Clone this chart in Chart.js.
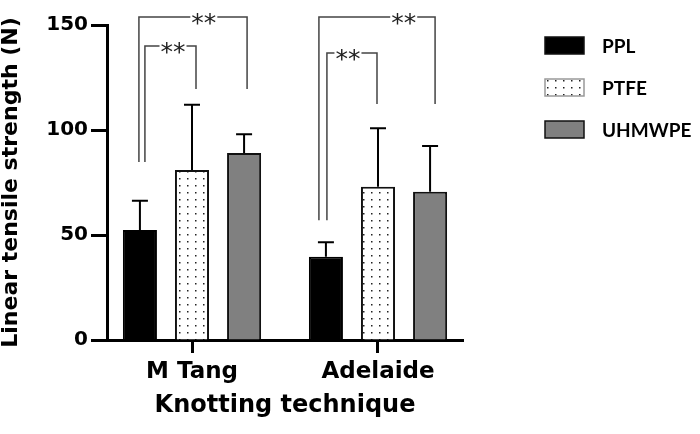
<!DOCTYPE html>
<html>
<head>
<meta charset="utf-8">
<script src="https://cdn.jsdelivr.net/npm/chart.js@4.4.1/dist/chart.umd.min.js"></script>
<style>
  html, body { margin: 0; padding: 0; background: #fff; }
</style>
</head>
<body>
<canvas id="myChart" width="700" height="434"></canvas>
<script>
const categories = ['M Tang', 'Adelaide'];
const seriesNames = ['PPL', 'PTFE', 'UHMWPE'];
const pplMean = [52.4, 39.7];
const pplSd = [13.9, 6.8];
const ptfeMean = [81.0, 73.0];
const ptfeSd = [31.0, 27.8];
const uhmwpeMean = [89.0, 70.6];
const uhmwpeSd = [9.0, 21.8];
const yTicks = [0, 50, 100, 150];

// significance brackets (values in N): category, bars joined, foot / top heights
const brackets = [
    { cat: 0, from: 0, to: 1, left: 84.8, top: 140.0, right: 119.5, label: '**' },
    { cat: 0, from: 0, to: 2, left: 84.8, top: 153.8, right: 119.5, label: '**' },
    { cat: 1, from: 0, to: 1, left: 57.0, top: 136.7, right: 112.4, label: '**' },
    { cat: 1, from: 0, to: 2, left: 57.0, top: 153.8, right: 112.4, label: '**' }
];
// small pixel nudges of the bracket legs and where the stars sit along the top
const bracketNudge = [[5, 4, 0.55], [-1, 3, 0.60], [1, -1, 0.42], [-7, 5, 0.73]];

function dotPattern() {
    const c = document.createElement('canvas');
    c.width = 8; c.height = 7;
    const g = c.getContext('2d');
    g.fillStyle = '#fff';
    g.fillRect(0, 0, 8, 7);
    g.fillStyle = '#222';
    g.fillRect(3, 3, 1.5, 1.5);
    return document.getElementById('myChart').getContext('2d').createPattern(c, 'repeat');
}
const dots = dotPattern();
const fills = ['#000000', dots, '#808080'];
const borders = ['#000000', '#111111', '#111111'];

const errorBars = {
    id: 'errorBars',
    afterDatasetsDraw(chart) {
        const ctx = chart.ctx;
        const y = chart.scales.y;
        ctx.save();
        ctx.strokeStyle = '#000';
        ctx.lineWidth = 2;
        chart.data.datasets.forEach((ds, i) => {
            chart.getDatasetMeta(i).data.forEach((bar, j) => {
                const top = y.getPixelForValue(ds.data[j].y + ds.sd[j]);
                ctx.beginPath();
                ctx.moveTo(bar.x, bar.y);
                ctx.lineTo(bar.x, top);
                ctx.moveTo(bar.x - 8, top);
                ctx.lineTo(bar.x + 8, top);
                ctx.stroke();
            });
        });

        // brackets
        ctx.strokeStyle = '#444';
        ctx.lineWidth = 1.5;
        ctx.font = '25px "DejaVu Sans", sans-serif';
        ctx.textAlign = 'center';
        ctx.textBaseline = 'alphabetic';
        ctx.fillStyle = '#222';
        brackets.forEach((b, k) => {
            const n = bracketNudge[k];
            const x1 = chart.getDatasetMeta(b.from).data[b.cat].x + n[0];
            const x2 = chart.getDatasetMeta(b.to).data[b.cat].x + n[1];
            const yl = y.getPixelForValue(b.left);
            const yt = y.getPixelForValue(b.top);
            const yr = y.getPixelForValue(b.right);
            const tx = x1 + (x2 - x1) * n[2];
            const half = ctx.measureText(b.label).width / 2 + 1;
            ctx.beginPath();
            ctx.moveTo(x1, yl);
            ctx.lineTo(x1, yt);
            ctx.lineTo(tx - half, yt);
            ctx.moveTo(tx + half, yt);
            ctx.lineTo(x2, yt);
            ctx.lineTo(x2, yr);
            ctx.stroke();
            ctx.fillText(b.label, tx, yt + 14);
        });
        ctx.restore();
    }
};

const sideLegend = {
    id: 'sideLegend',
    afterDraw(chart) {
        const ctx = chart.ctx;
        ctx.save();
        ctx.font = 'bold 19px Lato, "Open Sans", sans-serif';
        ctx.textBaseline = 'middle';
        ctx.textAlign = 'left';
        seriesNames.forEach((name, i) => {
            const cy = 45.5 + i * 42;
            ctx.fillStyle = fills[i];
            ctx.fillRect(545, cy - 8.5, 39, 17);
            ctx.strokeStyle = i === 1 ? '#999' : '#111';
            ctx.lineWidth = 1.5;
            ctx.strokeRect(545, cy - 8.5, 39, 17);
            ctx.fillStyle = '#000';
            ctx.fillText(name, 602, cy + 1);
        });
        ctx.restore();
    }
};

Chart.defaults.font.family = '"DejaVu Sans", Verdana, sans-serif';
Chart.defaults.color = '#000';

const means = [pplMean, ptfeMean, uhmwpeMean];
const sds = [pplSd, ptfeSd, uhmwpeSd];

const ctx = document.getElementById('myChart');
const myChart = new Chart(ctx, {
    type: 'bar',
    data: {
        datasets: seriesNames.map((name, i) => ({
            label: name,
            data: means[i].map((v, j) => ({ x: j, y: v })),
            sd: sds[i],
            backgroundColor: fills[i],
            borderColor: borders[i],
            borderWidth: 2,
            categoryPercentage: 0.84,
            barPercentage: 0.654
        }))
    },
    options: {
        responsive: false,
        animation: false,
        devicePixelRatio: 1,
        layout: { padding: { top: 25, right: 237, left: 0, bottom: 0 } },
        scales: {
            x: {
                type: 'linear',
                offset: false,
                min: -0.457,
                max: 1.457,
                afterBuildTicks: s => { s.ticks = categories.map((c, i) => ({ value: i })); },
                afterFit: s => { s.height = 94; },
                ticks: {
                    callback: v => categories[v],
                    font: { size: 23, weight: 'bold' },
                    padding: 5,
                    maxRotation: 0,
                    autoSkip: false
                },
                grid: {
                    offset: false,
                    drawOnChartArea: false,
                    drawTicks: true,
                    tickLength: 13,
                    tickWidth: 3,
                    tickColor: '#000'
                },
                border: { display: true, width: 3, color: '#000' },
                title: {
                    display: true,
                    text: 'Knotting technique',
                    font: { size: 24, weight: 'bold', lineHeight: 1 },
                    padding: { top: 0, bottom: 16 }
                }
            },
            y: {
                min: 0,
                max: 150,
                afterBuildTicks: s => { s.ticks = yTicks.map(v => ({ value: v })); },
                afterFit: s => { s.width = 107; },
                ticks: {
                    font: { size: 20, weight: 'bold' },
                    padding: 3
                },
                grid: {
                    drawOnChartArea: false,
                    drawTicks: true,
                    tickLength: 16,
                    tickWidth: 3,
                    tickColor: '#000'
                },
                border: { display: true, width: 3, color: '#000' },
                title: {
                    display: true,
                    text: 'Linear tensile strength (N)',
                    font: { size: 22, weight: 'bold', lineHeight: 1 },
                    padding: 0
                }
            }
        },
        plugins: {
            legend: { display: false },
            tooltip: { enabled: false }
        }
    },
    plugins: [errorBars, sideLegend]
});
</script>
</body>
</html>
